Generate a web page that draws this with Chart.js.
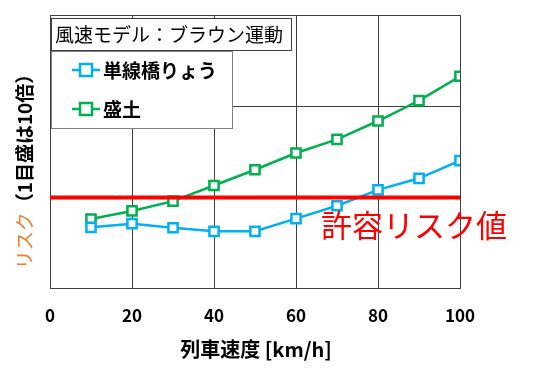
<!DOCTYPE html>
<html>
<head>
<meta charset="utf-8">
<script src="https://cdn.jsdelivr.net/npm/chart.js@4/dist/chart.umd.min.js"></script>
<style>
html,body{margin:0;padding:0;background:#fff;}
#wrap{width:551px;height:378px;position:relative;}
</style>
</head>
<body>
<div id="wrap"><canvas id="c" width="551" height="378"></canvas></div>
<script>
// Data (risk, log scale; each grid step = 10x)
const speeds = [10, 20, 30, 40, 50, 60, 70, 80, 90, 100];
const bridgeRisk = [4.7, 5.15, 4.65, 4.25, 4.25, 5.85, 8.1, 12.1, 16.2, 25.3];
const embankRisk = [5.8, 7.1, 9.1, 13.5, 20.1, 30.7, 43.2, 68.8, 115, 213];
const allowableRisk = 10;
const xTicks = [0, 20, 40, 60, 80, 100];
const yGrid = [1, 10, 100, 1000];
const seriesNames = ['単線橋りょう', '盛土'];
const titleText = '風速モデル：ブラウン運動';
const limitLabel = '許容リスク値';
const xTitle = '列車速度 [km/h]';
const yTitleColored = 'リスク';
const yTitleRest = '（1目盛は10倍）';

const BLUE = '#00B0F0', GREEN = '#00B050', RED = '#FF0000', ORANGE = '#ED7D31';
const JP = '"Noto Sans CJK JP", "Noto Sans", sans-serif';

const toXY = arr => arr.map((v, i) => ({x: speeds[i], y: v}));

const overlay = {
  id: 'overlay',
  afterDatasetsDraw(chart) {
    const ctx = chart.ctx;
    ctx.save();
    // Title box
    ctx.fillStyle = '#fff';
    ctx.strokeStyle = '#404040';
    ctx.lineWidth = 1;
    ctx.fillRect(51, 18, 240, 32);
    ctx.strokeRect(51.5, 18.5, 240, 32);
    ctx.fillStyle = '#000';
    ctx.font = '19px ' + JP;
    ctx.textBaseline = 'middle';
    ctx.textAlign = 'left';
    ctx.fillText(titleText, 55, 35);
    // Legend box
    ctx.fillStyle = '#fff';
    ctx.fillRect(51, 51, 181, 77);
    ctx.strokeStyle = '#7f7f7f';
    ctx.strokeRect(51.5, 51.5, 181, 77);
    const rows = [{c: BLUE, y: 70, t: seriesNames[0]}, {c: GREEN, y: 109, t: seriesNames[1]}];
    rows.forEach(r => {
      ctx.strokeStyle = r.c;
      ctx.lineWidth = 2.5;
      ctx.beginPath();
      ctx.moveTo(72, r.y);
      ctx.lineTo(100, r.y);
      ctx.stroke();
      ctx.fillStyle = '#fff';
      ctx.fillRect(80, r.y - 6, 12, 12);
      ctx.strokeRect(80, r.y - 6, 12, 12);
      ctx.fillStyle = '#000';
      ctx.font = 'bold 19px ' + JP;
      ctx.fillText(r.t, 103, r.y + 1);
    });
    // Allowable risk label
    ctx.fillStyle = RED;
    ctx.font = '31px ' + JP;
    ctx.textAlign = 'left';
    ctx.fillText(limitLabel, 321, 225);
    // X title
    ctx.fillStyle = '#000';
    ctx.font = 'bold 20px ' + JP;
    ctx.textAlign = 'center';
    ctx.fillText(xTitle, 256, 349);
    // Y title (rotated)
    ctx.textAlign = 'left';
    ctx.translate(25, 167);
    ctx.rotate(-Math.PI / 2);
    ctx.font = '19px ' + JP;
    const w1 = ctx.measureText(yTitleColored).width;
    ctx.font = 'bold 19px ' + JP;
    const w2 = ctx.measureText(yTitleRest).width;
    let x0 = -(w1 + w2) / 2;
    ctx.font = '19px ' + JP;
    ctx.fillStyle = ORANGE;
    ctx.fillText(yTitleColored, x0, 0);
    ctx.font = 'bold 19px ' + JP;
    ctx.fillStyle = '#000';
    ctx.fillText(yTitleRest, x0 + w1, 0);
    ctx.restore();
  }
};

new Chart(document.getElementById('c'), {
  type: 'line',
  data: {
    datasets: [
      {
        label: limitLabel,
        data: [{x: 0, y: allowableRisk}, {x: 100, y: allowableRisk}],
        borderColor: RED, borderWidth: 4, pointRadius: 0, fill: false
      },
      {
        label: seriesNames[0],
        data: toXY(bridgeRisk),
        borderColor: BLUE, backgroundColor: '#fff', borderWidth: 2.5,
        pointStyle: 'rect', pointRadius: 6.5, pointBorderWidth: 2.5, pointBackgroundColor: '#fff'
      },
      {
        label: seriesNames[1],
        data: toXY(embankRisk),
        borderColor: GREEN, backgroundColor: '#fff', borderWidth: 2.5,
        pointStyle: 'rect', pointRadius: 6.5, pointBorderWidth: 2.5, pointBackgroundColor: '#fff'
      }
    ]
  },
  options: {
    responsive: false,
    animation: false,
    layout: {padding: {left: 50, right: 91, top: 15, bottom: 35}},
    plugins: {legend: {display: false}, tooltip: {enabled: false}},
    scales: {
      x: {
        type: 'linear', min: 0, max: 100,
        afterBuildTicks: s => { s.ticks = xTicks.map(v => ({value: v})); },
        grid: {color: '#404040', lineWidth: 1, drawTicks: false},
        border: {color: '#404040'},
        ticks: {color: '#000', font: {family: JP, size: 17, weight: 'bold'}, padding: 17, maxRotation: 0},
        title: {display: false}
      },
      y: {
        type: 'logarithmic', min: 1, max: 1000,
        afterBuildTicks: s => { s.ticks = yGrid.map(v => ({value: v})); },
        grid: {color: '#404040', lineWidth: 1, drawTicks: false},
        border: {color: '#404040'},
        ticks: {display: false}
      }
    }
  },
  plugins: [overlay]
});
</script>
</body>
</html>
